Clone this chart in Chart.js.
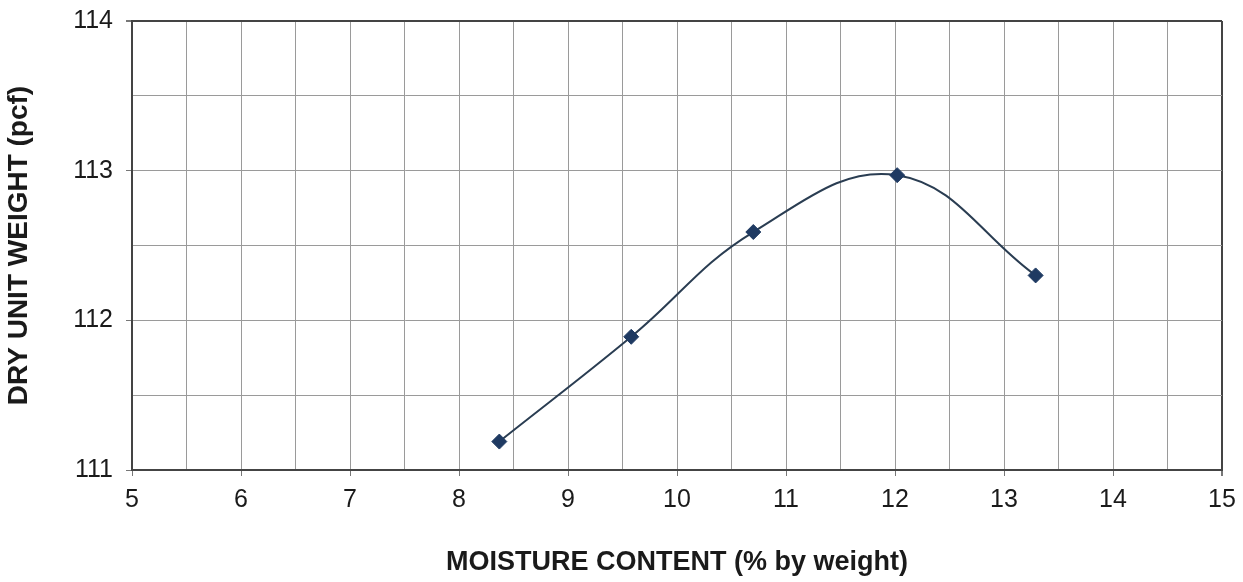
<!DOCTYPE html>
<html>
<head>
<meta charset="utf-8">
<script src="https://cdn.jsdelivr.net/npm/chart.js@4/dist/chart.umd.min.js"></script>
<style>
html,body{margin:0;padding:0;background:#fff;}
#wrap{width:1243px;height:582px;position:relative;}
</style>
</head>
<body>
<div id="wrap"><canvas id="c" width="1243" height="582"></canvas></div>
<script>
const moisture = [8.37, 9.58, 10.70, 12.02, 13.29];
const dryUnitWeight = [111.19, 111.89, 112.59, 112.97, 112.30];
const xTickLabels = [5, 6, 7, 8, 9, 10, 11, 12, 13, 14, 15];
const yTickLabels = [111, 112, 113, 114];
const xTitle = 'MOISTURE CONTENT (% by weight)';
const yTitle = 'DRY UNIT WEIGHT (pcf)';

const points = moisture.map((m, i) => ({x: m, y: dryUnitWeight[i]}));
const FONT = "'Liberation Sans', Arial, sans-serif";
const isInt = v => Math.abs(v - Math.round(v)) < 1e-6;

new Chart(document.getElementById('c'), {
  type: 'scatter',
  data: {
    datasets: [{
      data: points,
      showLine: true,
      tension: 0.4,
      borderColor: '#2a3d52',
      borderWidth: 2,
      pointStyle: 'rectRot',
      pointRadius: 7.5,
      pointBackgroundColor: '#1f3a62',
      pointBorderColor: '#1f3a62',
      pointBorderWidth: 1
    }]
  },
  options: {
    responsive: false,
    animation: false,
    devicePixelRatio: 1,
    layout: {padding: {top: 21, right: 21, left: 0, bottom: 0}},
    plugins: {legend: {display: false}, tooltip: {enabled: false}},
    scales: {
      x: {
        type: 'linear',
        min: xTickLabels[0],
        max: xTickLabels[xTickLabels.length - 1],
        afterFit: s => { s.height = 112; s.paddingLeft = 0; s.paddingRight = 0; },
        ticks: {
          stepSize: 0.5,
          autoSkip: false,
          maxRotation: 0,
          padding: 9,
          color: '#1a1a1a',
          font: {family: FONT, size: 25},
          callback: v => (isInt(v) && xTickLabels.includes(Math.round(v))) ? String(Math.round(v)) : ''
        },
        grid: {
          color: c => (c.tick && Math.abs(c.tick.value - 15) < 1e-6) ? '#444' : '#9a9a9a',
          lineWidth: c => (c.tick && Math.abs(c.tick.value - 15) < 1e-6) ? 2 : 1,
          tickLength: 6,
          tickColor: c => (c.tick && isInt(c.tick.value)) ? '#777' : 'rgba(0,0,0,0)'
        },
        border: {color: '#444', width: 2},
        title: {
          display: true,
          text: xTitle,
          color: '#1a1a1a',
          font: {family: FONT, size: 27, weight: 'bold'},
          padding: {top: 0, bottom: 3}
        }
      },
      y: {
        type: 'linear',
        min: yTickLabels[0],
        max: yTickLabels[yTickLabels.length - 1],
        afterFit: s => { s.width = 132; s.paddingTop = 0; s.paddingBottom = 0; },
        ticks: {
          stepSize: 0.5,
          autoSkip: false,
          padding: 13,
          color: '#1a1a1a',
          font: {family: FONT, size: 25},
          callback: v => (isInt(v) && yTickLabels.includes(Math.round(v))) ? String(Math.round(v)) : ''
        },
        grid: {
          color: c => (c.tick && Math.abs(c.tick.value - 114) < 1e-6) ? '#444' : '#9a9a9a',
          lineWidth: c => (c.tick && Math.abs(c.tick.value - 114) < 1e-6) ? 2 : 1,
          tickLength: 6,
          tickColor: c => (c.tick && isInt(c.tick.value)) ? '#777' : 'rgba(0,0,0,0)'
        },
        border: {color: '#444', width: 2},
        title: {
          display: true,
          text: yTitle,
          color: '#1a1a1a',
          font: {family: FONT, size: 28, weight: 'bold'},
          padding: {top: 2, bottom: 0}
        }
      }
    }
  }
});
</script>
</body>
</html>
